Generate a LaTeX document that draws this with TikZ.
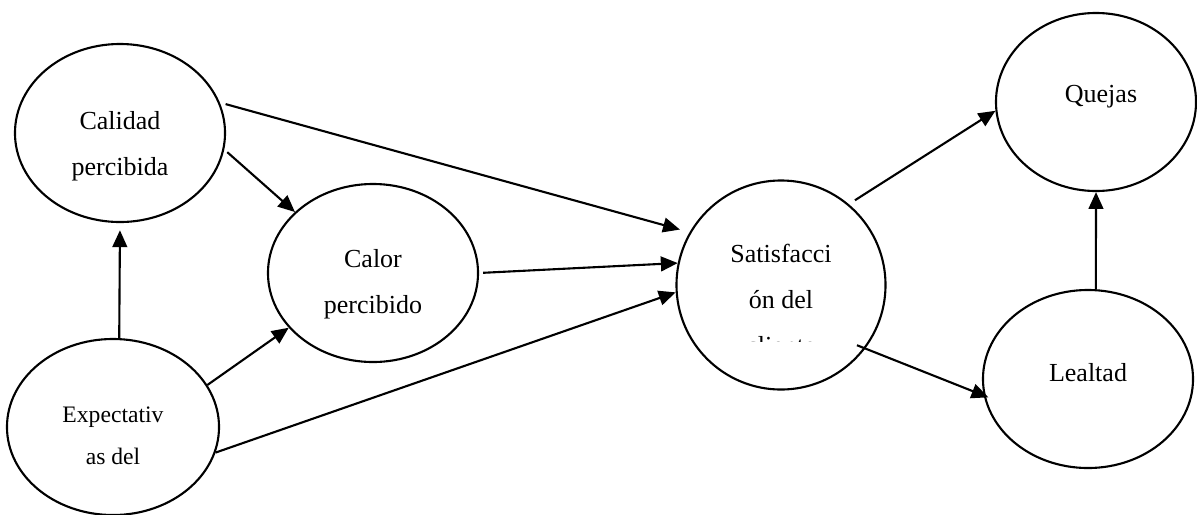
\documentclass[tikz,border=0pt]{standalone}
\usepackage{fontspec}
\setmainfont{Liberation Serif}
\usepackage{tikz}
\usetikzlibrary{positioning,arrows.meta,shapes.geometric,calc}
\tikzset{
  concept-node/.style={draw=black, ellipse, line width=1.5pt, inner sep=0pt,
    minimum width=5.25cm, minimum height=4.45cm},
  concept-text/.style={font=\fontsize{18.5}{32.7}\selectfont, align=center,
    inner sep=0pt},
  small-text/.style={font=\fontsize{16.8}{29.9}\selectfont, align=center,
    inner sep=0pt},
  path-arrow/.style={-{Triangle[length=12pt,width=10.5pt]}, line width=1.5pt,
    draw=black}
}

\begin{document}
\begin{tikzpicture}[x=0.025cm, y=-0.025cm]
\useasboundingbox (0,0) rectangle (1197,514);
\node[concept-node] (calidad) at (120,133) {};
\node[concept-node, minimum width=5.3cm, minimum height=4.4cm] (expect) at (113,427) {};
\node[concept-node] (calor) at (373,273) {};
\node[concept-node, minimum width=5.225cm, minimum height=5.225cm] (satisf) at (781,285) {};
\node[concept-node, minimum width=5cm] (quejas) at (1096,102) {};
\node[concept-node] (lealtad) at (1088,379) {};
\node[concept-text] (calidad-t) at ($(calidad)+(0,12.8)$) {Calidad\\percibida};
\node[concept-text] (calor-t) at ($(calor)+(0,11.3)$) {Calor\\percibido};
\node[small-text] (expect-t) at ($(expect)+(0,9)$) {Expectativ\\as del};
\begin{scope}
  \clip (660,170) rectangle (900,341);
  \node[concept-text] (satisf-t) at ($(satisf)+(0,14)$) {Satisfacci\\ón del\\cliente};
\end{scope}
\node[concept-text] (quejas-t) at ($(quejas)+(5,-5)$) {Quejas};
\node[concept-text] (lealtad-t) at ($(lealtad)+(0,-6)$) {Lealtad};
\draw[path-arrow, shorten <=0.15cm, shorten >=0.25cm] (calidad.17) -- (satisf.150);
\draw[path-arrow, shorten <=0.1cm] (calidad.-9) -- (calor.142);
\draw[path-arrow, shorten >=0.18cm] (expect.86) -- (calidad.south);
\draw[path-arrow] (expect.24) -- (calor.213);
\draw[path-arrow] (expect.-14) -- (satisf.184);
\draw[path-arrow, shorten <=0.1cm] (calor.0) -- (satisf.168);
\draw[path-arrow, shorten <=0.18cm] (satisf.50) -- (quejas.185);
\draw[path-arrow, shorten <=-0.225cm, shorten >=-0.125cm] (satisf.-37) -- (lealtad.189);
\draw[path-arrow] (lealtad.85) -- (quejas.south);
\end{tikzpicture}
\end{document}
